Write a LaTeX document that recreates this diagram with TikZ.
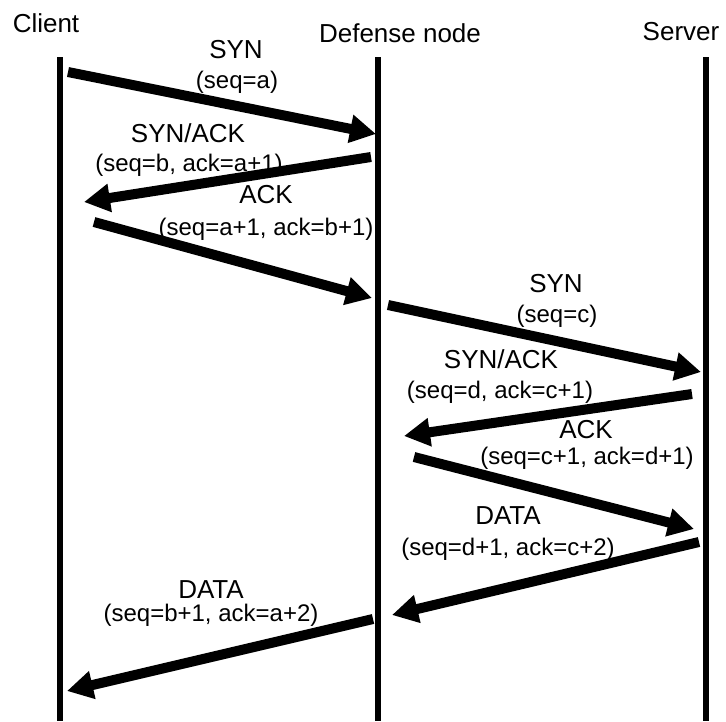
\documentclass[tikz,border=0pt]{standalone}
\usepackage{fontspec}
\setmainfont{Liberation Sans}
\usetikzlibrary{arrows.meta}
\begin{document}
\begin{tikzpicture}[x=1pt,y=-1pt,
  life/.style={line width=6.5pt},
  msg/.style={line width=10pt, -{Triangle[length=26pt,width=27pt]}},
  hdr/.style={font=\fontsize{26}{30}\selectfont, anchor=base, inner sep=0pt},
  lbl/.style={font=\fontsize{26}{30}\selectfont, anchor=base, inner sep=0pt},
  sq/.style={font=\fontsize{24}{28}\selectfont, anchor=base, inner sep=0pt}]
\useasboundingbox (0,0) rectangle (726,721);
% headers
\node[hdr] (client) at (46,32) {Client};
\node[hdr] (defense) at (400,42) {Defense node};
\node[hdr] (server) at (681,40) {Server};
% lifelines
\coordinate (ct) at (60,57);  \coordinate (cb) at (60,721);
\coordinate (dt) at (378,57); \coordinate (db) at (378,721);
\coordinate (st) at (706,57); \coordinate (sb) at (706,721);
\draw[life] (ct) -- (cb);
\draw[life] (dt) -- (db);
\draw[life] (st) -- (sb);
% arrow end points
\coordinate (a1s) at (68,72);   \coordinate (a1e) at (376,134);
\coordinate (a2s) at (371,157); \coordinate (a2e) at (84,202);
\coordinate (a3s) at (94,222);  \coordinate (a3e) at (372,298);
\coordinate (a4s) at (388,305); \coordinate (a4e) at (701,372);
\coordinate (a5s) at (692,394); \coordinate (a5e) at (404,436);
\coordinate (a6s) at (414,457); \coordinate (a6e) at (694,529);
\coordinate (a7s) at (699,542); \coordinate (a7e) at (392,615);
\coordinate (a8s) at (373,619); \coordinate (a8e) at (67,691);
\draw[msg] (a1s) -- (a1e);
\draw[msg] (a2s) -- (a2e);
\draw[msg] (a3s) -- (a3e);
\draw[msg] (a4s) -- (a4e);
\draw[msg] (a5s) -- (a5e);
\draw[msg] (a6s) -- (a6e);
\draw[msg] (a7s) -- (a7e);
\draw[msg] (a8s) -- (a8e);
% labels
\node[lbl] (l1) at (236,58) {SYN};
\node[sq]  (s1) at (237,88) {(seq=a)};
\node[lbl] (l2) at (188,142) {SYN/ACK};
\node[sq]  (s2) at (189,171) {(seq=b, ack=a+1)};
\node[lbl] (l3) at (266,203) {ACK};
\node[sq]  (s3) at (266,235) {(seq=a+1, ack=b+1)};
\node[lbl] (l4) at (556,292) {SYN};
\node[sq]  (s4) at (557,322) {(seq=c)};
\node[lbl] (l5) at (501,368) {SYN/ACK};
\node[sq]  (s5) at (500,398) {(seq=d, ack=c+1)};
\node[lbl] (l6) at (586,438) {ACK};
\node[sq]  (s6) at (587,464) {(seq=c+1, ack=d+1)};
\node[lbl] (l7) at (508,524) {DATA};
\node[sq]  (s7) at (508,555) {(seq=d+1, ack=c+2)};
\node[lbl] (l8) at (211,598) {DATA};
\node[sq]  (s8) at (211,621) {(seq=b+1, ack=a+2)};
\end{tikzpicture}
\end{document}
